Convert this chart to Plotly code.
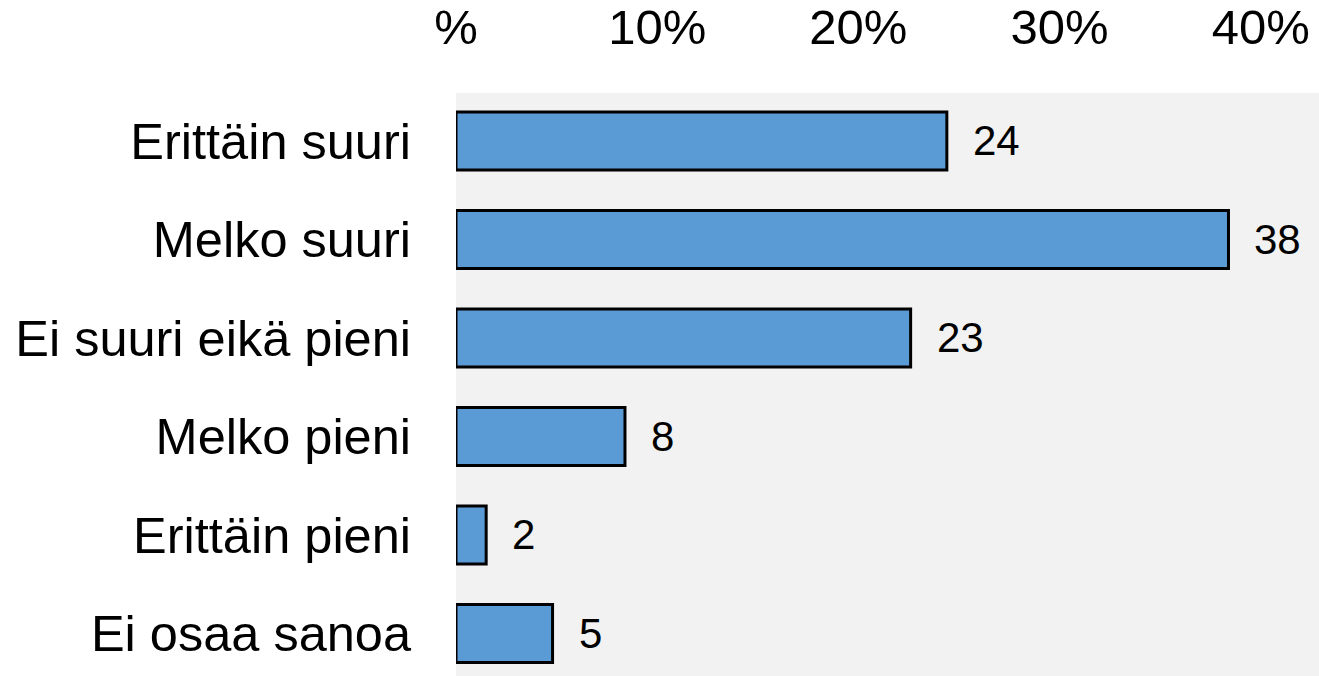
import plotly.graph_objects as go

categories = ["Erittäin suuri", "Melko suuri", "Ei suuri eikä pieni", "Melko pieni", "Erittäin pieni", "Ei osaa sanoa"]
values = [24.4, 38.4, 22.6, 8.4, 1.5, 4.8]
value_labels = ["24", "38", "23", "8", "2", "5"]
tick_vals = [0, 10, 20, 30, 40]
tick_text = ["%", "10%", "20%", "30%", "40%"]

FONT = "Liberation Sans, Arial, sans-serif"

fig = go.Figure()
fig.add_trace(go.Bar(
    y=categories,
    x=values,
    orientation="h",
    width=0.59,
    marker=dict(color="#5B9BD5", line=dict(color="#000000", width=3)),
    hoverinfo="skip",
))

for c, v, lab in zip(categories, values, value_labels):
    fig.add_annotation(
        x=v, y=c, text=lab, showarrow=False,
        xanchor="left", yanchor="middle", xshift=24,
        font=dict(family=FONT, size=42, color="#000000"),
    )

fig.update_layout(
    width=1319, height=676,
    margin=dict(l=456, r=0, t=93, b=0, autoexpand=False),
    paper_bgcolor="#ffffff",
    plot_bgcolor="#f2f2f2",
    showlegend=False,
    font=dict(family=FONT, color="#000000"),
    xaxis=dict(
        side="top",
        range=[0, 42.9],
        tickvals=tick_vals,
        ticktext=tick_text,
        showgrid=False,
        zeroline=False,
        showline=False,
        ticks="",
        automargin=False,
        ticklabelstandoff=38,
        tickfont=dict(family=FONT, size=49, color="#000000"),
        fixedrange=True,
    ),
    yaxis=dict(
        categoryorder="array",
        categoryarray=categories,
        range=[5.432, -0.487],
        showgrid=False,
        zeroline=False,
        showline=False,
        ticks="",
        automargin=False,
        ticklabelstandoff=44,
        tickfont=dict(family=FONT, size=50.5, color="#000000"),
        fixedrange=True,
    ),
)

fig.write_html(
    "out.html",
    config={"displayModeBar": False},
    post_script="document.body.style.margin='0';document.body.style.overflow='hidden';",
)
